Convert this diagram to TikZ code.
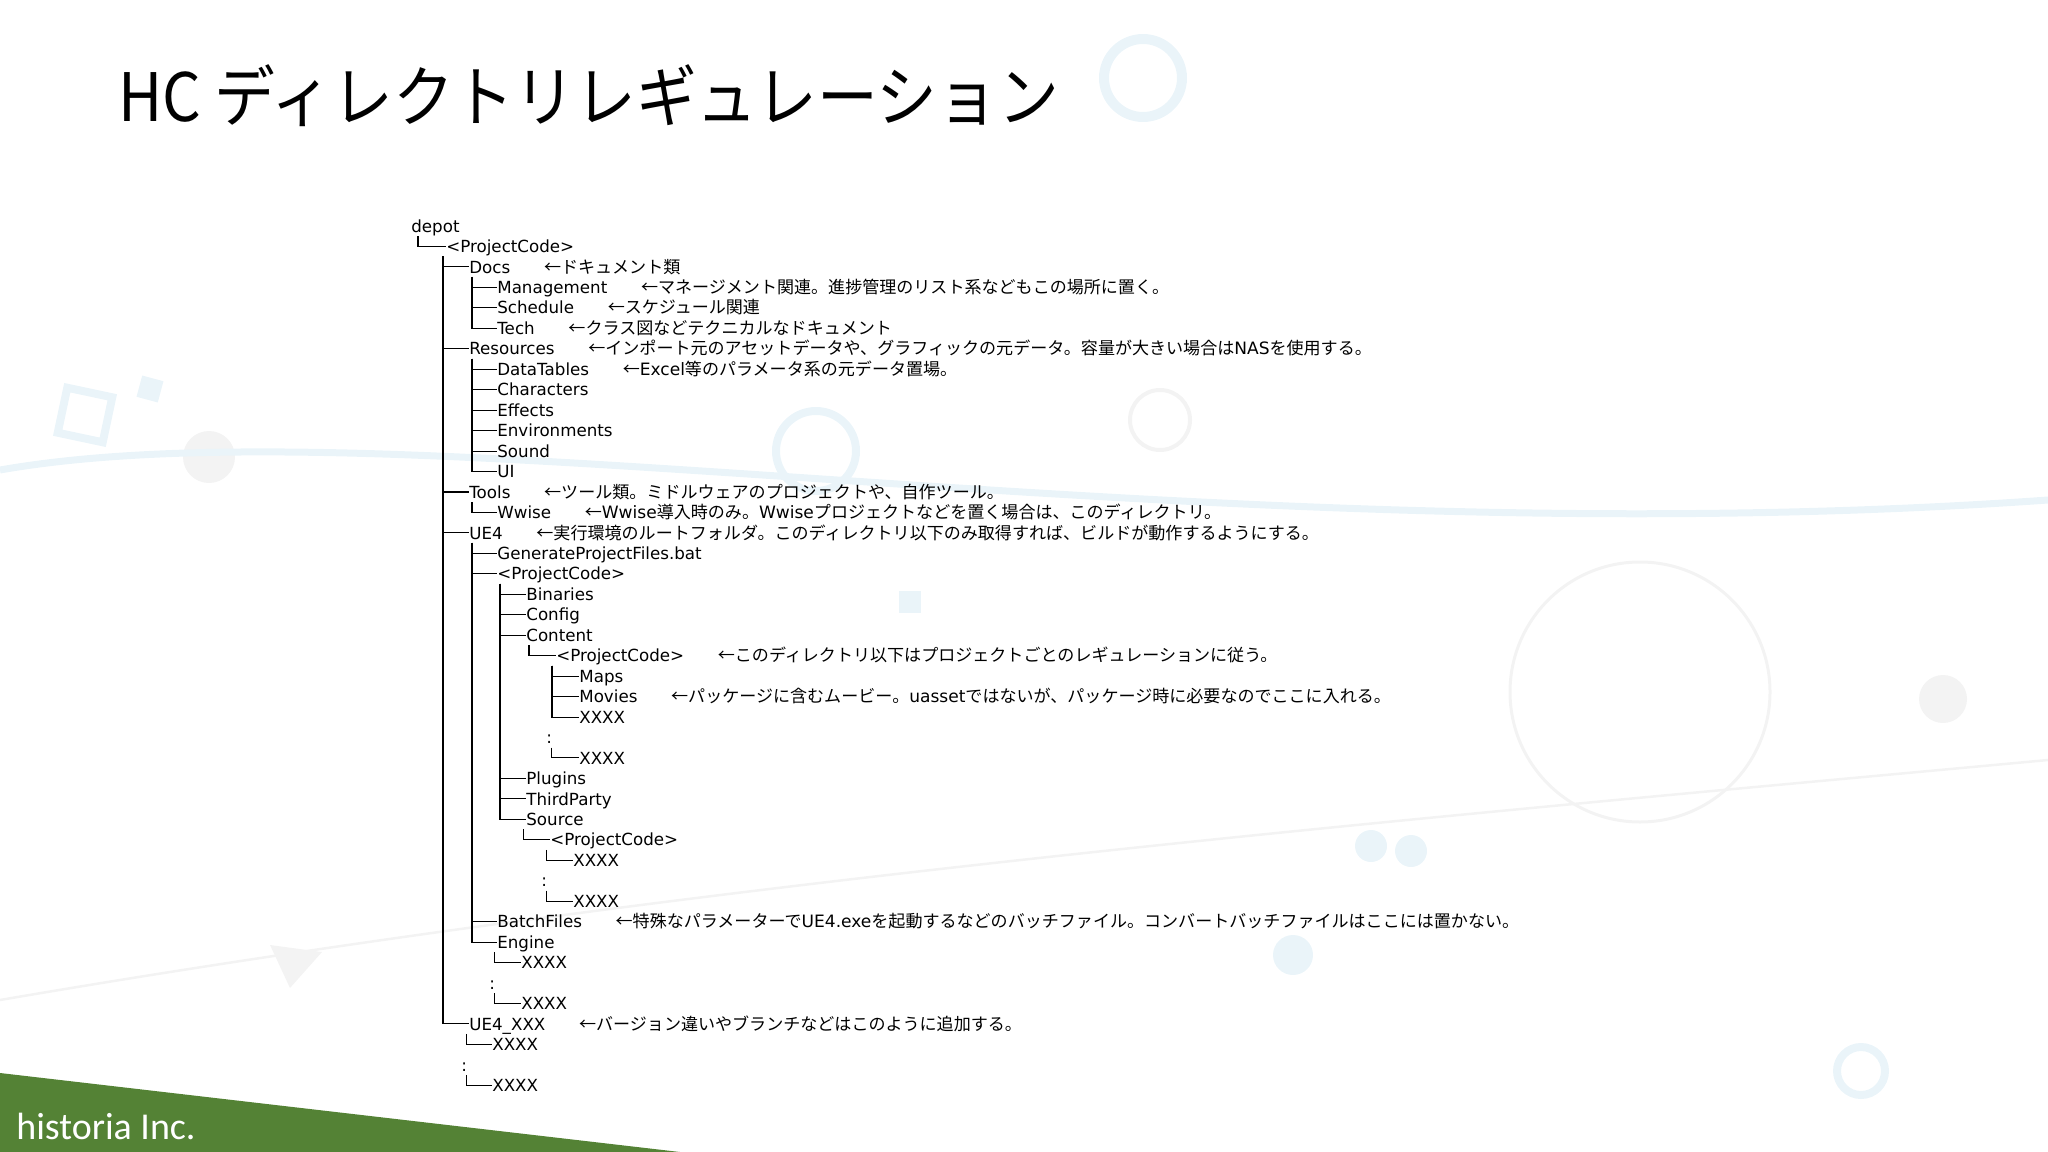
\documentclass[tikz,border=0pt]{standalone}
\usepackage{fontspec}
\setmainfont{DejaVu Sans}
\newfontfamily\jpfont{Noto Sans CJK JP}
\newfontfamily\logofont{Carlito}
\usetikzlibrary{positioning}
\definecolor{hcgreen}{HTML}{548235}
\definecolor{decoblue}{HTML}{EAF4F9}
\definecolor{decogrey}{HTML}{F3F3F3}
\newcommand{\rowy}[1]{226+20.46*#1}
\newcommand{\eng}[1]{{\rmfamily #1}}
\tikzset{
  dir/.style={anchor=west, inner sep=0pt, text height=9pt, text depth=2pt,
    font=\fontsize{9.5}{11}\selectfont},
  note/.style={dir, font=\fontsize{9.7}{11}\jpfont},
  branch/.style={line width=0.6pt},
}

\begin{document}
\begin{tikzpicture}[x=0.2mm, y=-0.2mm]
  \useasboundingbox (0,0) rectangle (2048,1152);
  % faint background
  \draw[decoblue, line width=2mm] (1143,78) circle (39);
  \draw[decoblue, line width=1.6mm] (816,451) circle (40);
  \draw[decogrey, line width=0.8mm] (1160,420) circle (30);
  \draw[decogrey, line width=0.6mm] (1640,692) circle (130);
  \draw[decoblue, line width=1.6mm] (1861,1071) circle (24);
  \draw[decoblue, line width=1.6mm, rotate around={-12:(85,415)}] (62,392) rectangle (108,438);
  \fill[decoblue, rotate around={-15:(150,389)}] (139,378) rectangle (161,400);
  \fill[decoblue] (899,591) rectangle (921,613);
  \fill[decogrey] (209,457) circle (26);
  \fill[decogrey] (1943,699) circle (24);
  \fill[decoblue] (1371,846) circle (16);
  \fill[decoblue] (1411,851) circle (16);
  \fill[decoblue] (1293,955) circle (20);
  \fill[decogrey] (270,945) -- (322,952) -- (290,988) -- cycle;
  \draw[decoblue, line width=1.4mm] (0,470) .. controls (400,400) and (1200,560) .. (2048,500);
  \draw[decogrey, line width=0.5mm] (0,1000) .. controls (700,880) and (1400,820) .. (2048,760);

  % footer
  \fill[hcgreen] (0,1073) -- (680,1152) -- (0,1152) -- cycle;
  \node[anchor=base west, inner sep=0pt, text=white,
    font=\logofont\fontsize{21.6}{24}\selectfont] (logo) at (16,1139) {historia Inc.};

  % title
  \node[anchor=base west, inner sep=0pt, xscale=0.91,
    font=\fontsize{38}{44}\jpfont] (title) at (118,122) {HC ディレクトリレギュレーション};

  % tree
  \node[dir] (depot) at (411,{\rowy{0}}) {depot};
  \node[dir] (pc) at (446,{\rowy{1}}) {<ProjectCode>};
  \node[dir] (docs) at (469,{\rowy{2}}) {Docs};
  \node[dir] (mgmt) at (497,{\rowy{3}}) {Management};
  \node[dir] (sched) at (497,{\rowy{4}}) {Schedule};
  \node[dir] (tech) at (497,{\rowy{5}}) {Tech};
  \node[dir] (res) at (469,{\rowy{6}}) {Resources};
  \node[dir] (tables) at (497,{\rowy{7}}) {DataTables};
  \node[dir] (chars) at (497,{\rowy{8}}) {Characters};
  \node[dir] (effects) at (497,{\rowy{9}}) {Effects};
  \node[dir] (envs) at (497,{\rowy{10}}) {Environments};
  \node[dir] (sound) at (497,{\rowy{11}}) {Sound};
  \node[dir] (ui) at (497,{\rowy{12}}) {UI};
  \node[dir] (tools) at (469,{\rowy{13}}) {Tools};
  \node[dir] (wwise) at (497,{\rowy{14}}) {Wwise};
  \node[dir] (ue) at (469,{\rowy{15}}) {UE4};
  \node[dir] (genbat) at (497,{\rowy{16}}) {GenerateProjectFiles.bat};
  \node[dir] (uepc) at (497,{\rowy{17}}) {<ProjectCode>};
  \node[dir] (bin) at (526,{\rowy{18}}) {Binaries};
  \node[dir] (config) at (526,{\rowy{19}}) {Config};
  \node[dir] (content) at (526,{\rowy{20}}) {Content};
  \node[dir] (contpc) at (556,{\rowy{21}}) {<ProjectCode>};
  \node[dir] (maps) at (579,{\rowy{22}}) {Maps};
  \node[dir] (movies) at (579,{\rowy{23}}) {Movies};
  \node[dir] (contxa) at (579,{\rowy{24}}) {XXXX};
  \node[dir] (contdots) at (546,{\rowy{25}}) {:};
  \node[dir] (contxb) at (579,{\rowy{26}}) {XXXX};
  \node[dir] (plugins) at (526,{\rowy{27}}) {Plugins};
  \node[dir] (third) at (526,{\rowy{28}}) {ThirdParty};
  \node[dir] (source) at (526,{\rowy{29}}) {Source};
  \node[dir] (srcpc) at (550,{\rowy{30}}) {<ProjectCode>};
  \node[dir] (srcxa) at (573,{\rowy{31}}) {XXXX};
  \node[dir] (srcdots) at (541,{\rowy{32}}) {:};
  \node[dir] (srcxb) at (573,{\rowy{33}}) {XXXX};
  \node[dir] (batch) at (497,{\rowy{34}}) {BatchFiles};
  \node[dir] (engine) at (497,{\rowy{35}}) {Engine};
  \node[dir] (engxa) at (521,{\rowy{36}}) {XXXX};
  \node[dir] (engdots) at (489,{\rowy{37}}) {:};
  \node[dir] (engxb) at (521,{\rowy{38}}) {XXXX};
  \node[dir] (uex) at (469,{\rowy{39}}) {UE4\_XXX};
  \node[dir] (uexxa) at (492,{\rowy{40}}) {XXXX};
  \node[dir] (uexdots) at (461,{\rowy{41}}) {:};
  \node[dir] (uexxb) at (492,{\rowy{42}}) {XXXX};

  % notes
  \node[note, right=6.6mm of docs] (docsnote) {←ドキュメント類};
  \node[note, right=6.6mm of mgmt] (mgmtnote) {←マネージメント関連。進捗管理のリスト系などもこの場所に置く。};
  \node[note, right=6.6mm of sched] (schednote) {←スケジュール関連};
  \node[note, right=6.6mm of tech] (technote) {←クラス図などテクニカルなドキュメント};
  \node[note, right=6.6mm of res] (resnote) {←インポート元のアセットデータや、グラフィックの元データ。容量が大きい場合は\eng{NAS}を使用する。};
  \node[note, right=6.6mm of tables] (tablesnote) {←\eng{Excel}等のパラメータ系の元データ置場。};
  \node[note, right=6.6mm of tools] (toolsnote) {←ツール類。ミドルウェアのプロジェクトや、自作ツール。};
  \node[note, right=6.6mm of wwise] (wwisenote) {←\eng{Wwise}導入時のみ。\eng{Wwise}プロジェクトなどを置く場合は、このディレクトリ。};
  \node[note, right=6.6mm of ue] (uenote) {←実行環境のルートフォルダ。このディレクトリ以下のみ取得すれば、ビルドが動作するようにする。};
  \node[note, right=6.6mm of contpc] (contpcnote) {←このディレクトリ以下はプロジェクトごとのレギュレーションに従う。};
  \node[note, right=6.6mm of movies] (moviesnote) {←パッケージに含むムービー。\eng{uasset}ではないが、パッケージ時に必要なのでここに入れる。};
  \node[note, right=6.6mm of batch] (batchnote) {←特殊なパラメーターで\eng{UE4.exe}を起動するなどのバッチファイル。コンバートバッチファイルはここには置かない。};
  \node[note, right=6.6mm of uex] (uexnote) {←バージョン違いやブランチなどはこのように追加する。};

  % branches
  \draw[branch] ([xshift=1.4mm]depot.south west) |- (pc.west);
  \draw[branch] ([xshift=-0.6mm]pc.south west) |- (docs.west);
  \draw[branch] ([xshift=-0.6mm]pc.south west) |- (res.west);
  \draw[branch] ([xshift=-0.6mm]pc.south west) |- (tools.west);
  \draw[branch] ([xshift=-0.6mm]pc.south west) |- (ue.west);
  \draw[branch] ([xshift=-0.6mm]pc.south west) |- (uex.west);
  \draw[branch] ([xshift=0.6mm]docs.south west) |- (mgmt.west);
  \draw[branch] ([xshift=0.6mm]docs.south west) |- (sched.west);
  \draw[branch] ([xshift=0.6mm]docs.south west) |- (tech.west);
  \draw[branch] ([xshift=0.6mm]res.south west) |- (tables.west);
  \draw[branch] ([xshift=0.6mm]res.south west) |- (chars.west);
  \draw[branch] ([xshift=0.6mm]res.south west) |- (effects.west);
  \draw[branch] ([xshift=0.6mm]res.south west) |- (envs.west);
  \draw[branch] ([xshift=0.6mm]res.south west) |- (sound.west);
  \draw[branch] ([xshift=0.6mm]res.south west) |- (ui.west);
  \draw[branch] ([xshift=0.6mm]tools.south west) |- (wwise.west);
  \draw[branch] ([xshift=0.6mm]ue.south west) |- (genbat.west);
  \draw[branch] ([xshift=0.6mm]ue.south west) |- (uepc.west);
  \draw[branch] ([xshift=0.6mm]ue.south west) |- (batch.west);
  \draw[branch] ([xshift=0.6mm]ue.south west) |- (engine.west);
  \draw[branch] ([xshift=0.6mm]uepc.south west) |- (bin.west);
  \draw[branch] ([xshift=0.6mm]uepc.south west) |- (config.west);
  \draw[branch] ([xshift=0.6mm]uepc.south west) |- (content.west);
  \draw[branch] ([xshift=0.6mm]uepc.south west) |- (plugins.west);
  \draw[branch] ([xshift=0.6mm]uepc.south west) |- (third.west);
  \draw[branch] ([xshift=0.6mm]uepc.south west) |- (source.west);
  \draw[branch] ([xshift=0.6mm]content.south west) |- (contpc.west);
  \draw[branch] ([xshift=-0.8mm]contpc.south west) |- (maps.west);
  \draw[branch] ([xshift=-0.8mm]contpc.south west) |- (movies.west);
  \draw[branch] ([xshift=-0.8mm]contpc.south west) |- (contxa.west);
  \draw[branch] ([xshift=1.1mm]contdots.south west) |- (contxb.west);
  \draw[branch] ([xshift=-0.5mm]source.south west) |- (srcpc.west);
  \draw[branch] ([xshift=-0.7mm]srcpc.south west) |- (srcxa.west);
  \draw[branch] ([xshift=1.1mm]srcdots.south west) |- (srcxb.west);
  \draw[branch] ([xshift=-0.5mm]engine.south west) |- (engxa.west);
  \draw[branch] ([xshift=1.1mm]engdots.south west) |- (engxb.west);
  \draw[branch] ([xshift=-0.5mm]uex.south west) |- (uexxa.west);
  \draw[branch] ([xshift=1.1mm]uexdots.south west) |- (uexxb.west);
\end{tikzpicture}
\end{document}
